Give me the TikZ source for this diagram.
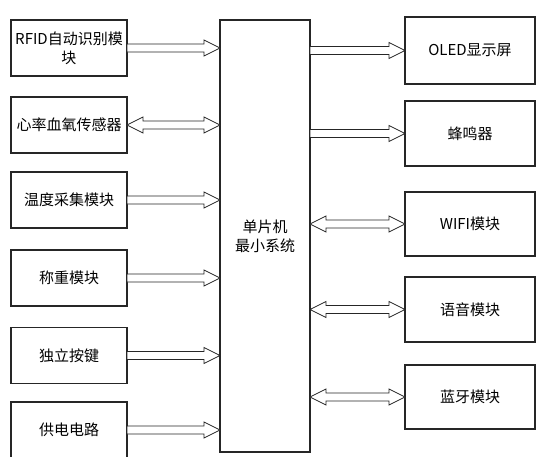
\documentclass[tikz,border=0pt]{standalone}
\usepackage{fontspec}
\setmainfont{Noto Sans CJK SC}
\usetikzlibrary{calc}
\tikzset{
  box/.style={draw=black!85, line width=1pt, fill=white, outer sep=0pt, inner sep=1pt,
    align=center, font=\fontsize{11.25}{14.5}\selectfont},
  lbox/.style={box, minimum width=87pt, minimum height=42pt},
  arr/.style={draw=black!85, line width=0.65pt, fill=white, line join=miter},
}
\newcommand\onearrow[3]{%
  \draw[arr] let \p1=(#1.east), \p2=(#2.west), \p3=(#3.center) in
    (\x1,{\y3+3pt}) -- ({\x2-12pt},{\y3+3pt}) -- ({\x2-12pt},{\y3+6pt}) -- (\x2,\y3)
    -- ({\x2-12pt},{\y3-6pt}) -- ({\x2-12pt},{\y3-3pt}) -- (\x1,{\y3-3pt}) -- cycle;}
\newcommand\twoarrow[3]{%
  \draw[arr] let \p1=(#1.east), \p2=(#2.west), \p3=(#3.center) in
    (\x1,\y3) -- ({\x1+12pt},{\y3+6pt}) -- ({\x1+12pt},{\y3+3pt}) -- ({\x2-12pt},{\y3+3pt})
    -- ({\x2-12pt},{\y3+6pt}) -- (\x2,\y3) -- ({\x2-12pt},{\y3-6pt}) -- ({\x2-12pt},{\y3-3pt})
    -- ({\x1+12pt},{\y3-3pt}) -- ({\x1+12pt},{\y3-6pt}) -- cycle;}
\begin{document}
\begin{tikzpicture}[x=0.75pt,y=-0.75pt]
\useasboundingbox (0,0) rectangle (550,457);
% left column
\node[lbox] (rfid) at (69,48) {RFID自动识别模\\块};
\node[lbox] (hr)   at (69,125) {心率血氧传感器};
\node[lbox] (temp) at (69,200) {温度采集模块};
\node[lbox] (wt)   at (69,278) {称重模块};
\node[lbox] (key)  at (69,355.5) {独立按键};
\node[lbox] (pwr)  at (69,430) {供电电路};
% center
\node[box, minimum width=67.5pt, minimum height=324pt] (mcu) at (265,236) {单片机\\最小系统};
% right column
\node[box, minimum width=97.5pt, minimum height=50.25pt] (oled) at (470,50.5) {OLED显示屏};
\node[box, minimum width=97.5pt, minimum height=48.75pt] (buz)  at (470,133.5) {蜂鸣器};
\node[box, minimum width=97.5pt, minimum height=48pt]    (wifi) at (470,224) {WIFI模块};
\node[box, minimum width=97.5pt, minimum height=48.75pt] (voi)  at (470,309.5) {语音模块};
\node[box, minimum width=97.5pt, minimum height=48pt]    (bt)   at (470,397) {蓝牙模块};
% connectors
\onearrow{rfid}{mcu}{rfid}
\twoarrow{hr}{mcu}{hr}
\onearrow{temp}{mcu}{temp}
\onearrow{wt}{mcu}{wt}
\onearrow{key}{mcu}{key}
\onearrow{pwr}{mcu}{pwr}
\onearrow{mcu}{oled}{oled}
\onearrow{mcu}{buz}{buz}
\twoarrow{mcu}{wifi}{wifi}
\twoarrow{mcu}{voi}{voi}
\twoarrow{mcu}{bt}{bt}
\end{tikzpicture}
\end{document}
